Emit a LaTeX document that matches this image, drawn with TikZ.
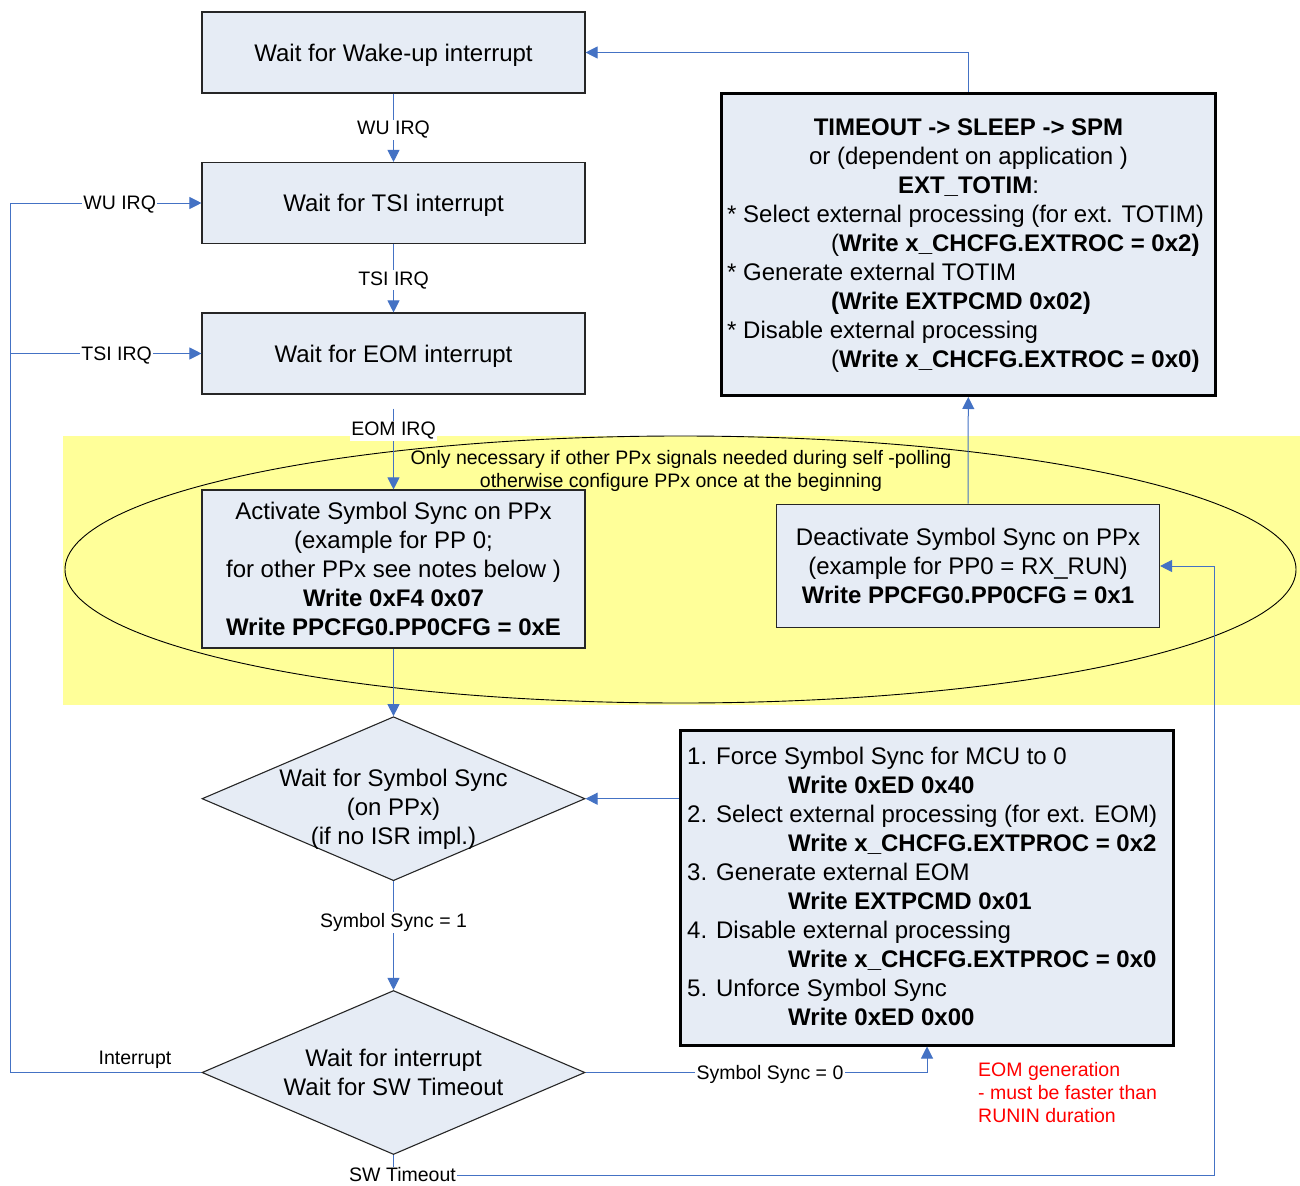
\documentclass[tikz,border=0pt]{standalone}
\usepackage{fontspec}
\setmainfont{Liberation Sans}
\usetikzlibrary{shapes.geometric,arrows.meta}
\definecolor{boxfill}{RGB}{230,236,245}
\definecolor{conncol}{RGB}{68,114,196}
\definecolor{ybg}{RGB}{255,255,153}
\tikzset{
  box/.style={draw=black!85, line width=1.1pt, fill=boxfill, inner sep=0pt, align=center,
    font=\fontsize{24pt}{29pt}\selectfont, minimum width=383pt, minimum height=81pt},
  onebox/.style={box, text height=17.2pt, text depth=0pt},
  thickbox/.style={draw=black, line width=3pt, fill=boxfill, inner sep=0pt},
  conn/.style={draw=conncol, line width=1pt, -{Triangle[length=12pt,width=12pt]}},
  lbl/.style={fill=white, inner sep=1.5pt, yshift=-2pt, font=\fontsize{19.5pt}{23pt}\selectfont, text=black},
  dia/.style={diamond, draw=black!85, line width=1.1pt, fill=boxfill, inner sep=0pt,
    minimum width=383pt, minimum height=164pt},
  txt/.style={inner sep=0pt, font=\fontsize{24pt}{29pt}\selectfont, align=left},
}
\begin{document}
\begin{tikzpicture}[x=1pt,y=-1pt]
\useasboundingbox (0,0) rectangle (1300,1185);
% yellow region and ellipse
\fill[ybg] (63,436) rectangle (1300,705);
\draw[line width=0.9pt] (680.5,569.5) ellipse [x radius=615.5, y radius=133.5];
\node[txt, align=center, font=\fontsize{19.5pt}{22.7pt}\selectfont] (note) at (681,471)
  {Only necessary if other PPx signals needed during self -polling\\otherwise configure PPx once at the beginning};

% boxes
\node[onebox] (wake) at (393.5,52.5) {Wait for Wake-up interrupt};
\node[onebox] (tsi) at (393.5,203) {Wait for TSI interrupt};
\node[onebox] (eom) at (393.5,353.5) {Wait for EOM interrupt};
\node[box, minimum height=158pt] (act) at (393.5,569)
  {Activate Symbol Sync on PPx\\(example for PP 0;\\for other PPx see notes below )\\\textbf{Write 0xF4 0x07}\\\textbf{Write PPCFG0.PP0CFG = 0xE}};
\node[box, minimum height=123.5pt] (deact) at (968,566)
  {Deactivate Symbol Sync on PPx\\(example for PP0 = RX\_RUN)\\\textbf{Write PPCFG0.PP0CFG = 0x1}};

\node[thickbox, minimum width=493.5pt, minimum height=302pt] (tmo) at (968.5,244.5) {};
\node[txt, align=center] (tmoc) at (968.5,158)
  {\textbf{TIMEOUT -> SLEEP -> SPM}\\or (dependent on application )\\\textbf{EXT\_TOTIM}:};
\node[txt, anchor=west] (tmol) at (727,288.5)
  {* Select external processing  (for ext. TOTIM)\\
   \hspace*{104pt}(\textbf{Write x\_CHCFG.EXTROC = 0x2)}\\
   * Generate external TOTIM\\
   \hspace*{104pt}\textbf{(Write EXTPCMD 0x02)}\\
   * Disable external processing\\
   \hspace*{104pt}(\textbf{Write x\_CHCFG.EXTROC = 0x0)}};

\node[thickbox, minimum width=493.5pt, minimum height=315pt] (ins) at (927,887.5) {};
\node[txt, anchor=west] (insl) at (687,886.5)
  {1. Force Symbol Sync for MCU to 0\\
   \hspace*{101pt}\textbf{Write 0xED 0x40}\\
   2. Select external processing  (for ext. EOM)\\
   \hspace*{101pt}\textbf{Write x\_CHCFG.EXTPROC = 0x2}\\
   3. Generate external EOM\\
   \hspace*{101pt}\textbf{Write EXTPCMD 0x01}\\
   4. Disable external processing\\
   \hspace*{101pt}\textbf{Write x\_CHCFG.EXTPROC = 0x0}\\
   5. Unforce Symbol Sync\\
   \hspace*{101pt}\textbf{Write 0xED 0x00}};

% diamonds
\node[dia] (d1) at (393.5,798.7) {};
\node[txt, align=center] (d1t) at (393.5,809) {Wait for Symbol Sync\\(on PPx)\\(if no ISR impl.)};
\node[dia] (d2) at (393.5,1072.5) {};
\node[txt, align=center] (d2t) at (393.5,1072) {Wait for interrupt\\Wait for SW Timeout};

% red note
\node[txt, text=red, font=\fontsize{19.5pt}{23.4pt}\selectfont, anchor=west] (red) at (978,1092.5)
  {EOM generation\\- must be faster than\\RUNIN duration};

% connectors
\draw[conn] (wake) -- node[lbl]{WU IRQ} (tsi);
\draw[conn] (tsi) -- node[lbl]{TSI IRQ} (eom);
\draw[conn, shorten <=14pt] (eom) -- node[lbl, pos=0.36]{EOM IRQ} (act);
\draw[conn] (act) -- (d1);
\draw[conn] (d1) -- node[lbl, pos=0.364]{Symbol Sync = 1} (d2);

\coordinate (lb) at (10,1072.5);
\coordinate (lm) at (10,353.5);
\coordinate (lt) at (10,203);
\draw[conn] (d2.west) -- (lb) -- (lt) -- node[lbl, pos=0.573]{WU IRQ} (tsi.west);
\draw[conn] (lm) -- node[lbl, pos=0.557]{TSI IRQ} (eom.west);
\node[font=\fontsize{19.5pt}{23pt}\selectfont, inner sep=0pt] (intl) at (135,1060) {Interrupt};

\draw[conn] (d2.east) -| node[lbl, pos=0.27]{Symbol Sync = 0} (ins.south);
\draw[conn] (ins.west |- d1.east) -- (d1.east);
\draw[conn] (deact) -- (tmo);
\draw[conn] (tmo.north) |- (wake.east);

\coordinate (swc) at (393.5,1175);
\coordinate (rc) at (1214.5,1175);
\draw[conn] (d2.south) -- (swc) -- (rc) |- (deact.east);
\node[lbl, yshift=2pt, inner sep=1pt] (swl) at (402.5,1175) {SW Timeout};
\end{tikzpicture}
\end{document}
